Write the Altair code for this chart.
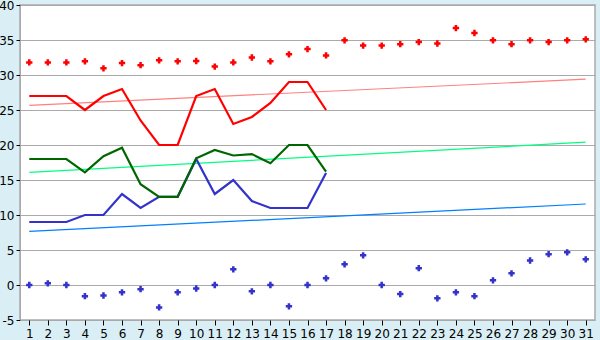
import altair as alt
import pandas as pd

days = list(range(1, 32))
line_days = list(range(1, 18))

red_line = [27, 27, 27, 25, 27, 28, 23.5, 20, 20, 27, 28, 23, 24, 26, 29, 29, 25]
green_line = [18, 18, 18, 16.1, 18.4, 19.6, 14.4, 12.6, 12.6, 18.1, 19.3, 18.5, 18.7, 17.4, 20, 20, 16.2]
blue_line = [9, 9, 9, 10, 10, 13, 11, 12.6, 12.6, 18, 13, 15, 12, 11, 11, 11, 16]

red_dots = [31.8, 31.8, 31.8, 31.95, 30.95, 31.7, 31.4, 32.1, 31.95, 32.0,
            31.2, 31.8, 32.5, 31.95, 32.95, 33.7, 32.8, 34.95, 34.2, 34.2,
            34.4, 34.7, 34.5, 36.7, 36.0, 34.95, 34.4, 34.95, 34.7, 34.95, 35.1]
blue_dots = [0, 0.24, 0, -1.6, -1.5, -1.05, -0.6, -3.2, -1.05, -0.5,
             0, 2.24, -0.9, 0, -3.05, 0, 0.95, 2.95, 4.24, 0,
             -1.3, 2.4, -1.9, -1.05, -1.6, 0.67, 1.67, 3.5, 4.4, 4.67, 3.67]

trend_days = [1, 31]
red_trend = [25.67, 29.4]
green_trend = [16.1, 20.4]
blue_trend = [7.67, 11.57]

lines = pd.DataFrame(
    [{"day": d, "v": v, "s": "blue"} for d, v in zip(line_days, blue_line)]
    + [{"day": d, "v": v, "s": "green"} for d, v in zip(line_days, green_line)]
    + [{"day": d, "v": v, "s": "red"} for d, v in zip(line_days, red_line)]
)
dots = pd.DataFrame(
    [{"day": d, "v": v, "s": "red"} for d, v in zip(days, red_dots)]
    + [{"day": d, "v": v, "s": "blue"} for d, v in zip(days, blue_dots)]
)
trends = pd.DataFrame(
    [{"day": d, "v": v, "s": "red"} for d, v in zip(trend_days, red_trend)]
    + [{"day": d, "v": v, "s": "green"} for d, v in zip(trend_days, green_trend)]
    + [{"day": d, "v": v, "s": "blue"} for d, v in zip(trend_days, blue_trend)]
)

xenc = alt.X("day:Q", scale=alt.Scale(domain=[0.5, 31.5], nice=False, zero=False),
             axis=alt.Axis(values=days, format="d", grid=False, title=None,
                           tickColor="#000000", tickSize=5, domain=False,
                           labelPadding=3, labelFlush=False, labelOverlap=False))
yenc = alt.Y("v:Q", scale=alt.Scale(domain=[-5, 40], nice=False, zero=False),
             axis=alt.Axis(values=list(range(-5, 41, 5)), title=None, grid=True,
                           labelExpr="'' + datum.value",
                           gridColor="#AAAAAA", tickColor="#000000", tickSize=4,
                           domainColor="#AAAAAA", labelPadding=2))

trend_chart = alt.Chart(trends).mark_line(strokeWidth=1.2).encode(
    x=xenc, y=yenc, detail="s:N",
    color=alt.Color("s:N", scale=alt.Scale(domain=["red", "green", "blue"],
                                           range=["#FF8080", "#00FF80", "#0080FF"]), legend=None),
)
line_chart = alt.Chart(lines).mark_line(strokeWidth=2.2).encode(
    x=xenc, y=yenc, detail="s:N",
    order=alt.Order("day:Q"),
    color=alt.Color("s:N", scale=alt.Scale(domain=["red", "green", "blue"],
                                           range=["#FF0000", "#006600", "#3333CC"]), legend=None),
)
dot_chart = alt.Chart(dots).mark_point(shape="cross", filled=True, size=40, opacity=1).encode(
    x=xenc, y=yenc,
    color=alt.Color("s:N", scale=alt.Scale(domain=["red", "blue"],
                                           range=["#FF0000", "#3333CC"]), legend=None),
)

chart = alt.layer(trend_chart, line_chart, dot_chart).resolve_scale(color="independent").properties(
    width=575, height=315,
    background="#D9EFF5",
    padding={"left": 20, "top": 5, "right": 5, "bottom": 20},
    autosize=alt.AutoSizeParams(type="none"),
).configure_view(fill="#FFFFFF", stroke="#AAAAAA", strokeWidth=1.5).configure_axis(
    labelFont="DejaVu Sans", labelFontSize=12, labelColor="#000000",
)

chart.save("out.html", embed_options={"renderer": "svg", "actions": False})
